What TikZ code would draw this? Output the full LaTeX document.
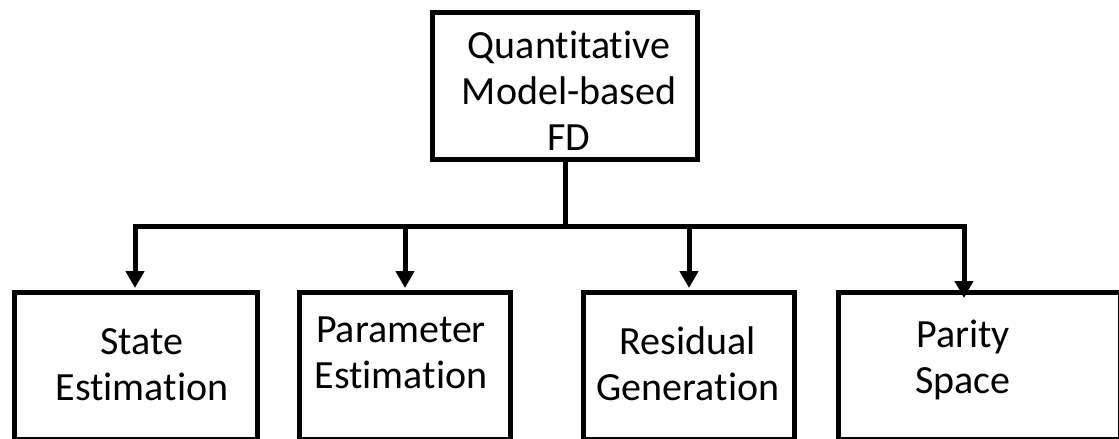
\documentclass[tikz,border=0pt]{standalone}
\usepackage{fontspec}
\setmainfont[Ligatures=NoCommon]{Carlito}
\usetikzlibrary{arrows.meta}
\tikzset{
  box/.style={draw=black, line width=5pt, fill=white, inner sep=0pt},
  lbl/.style={font=\fontsize{40}{46}\selectfont, align=center, inner sep=0pt, anchor=base},
  conn/.style={line width=5pt, line join=miter},
  arr/.style={conn, -{Triangle[width=18pt,length=17pt]}}
}
\begin{document}
\begin{tikzpicture}[x=1pt,y=-1pt]
\clip (0,0) rectangle (1119,439);
\fill[white] (0,0) rectangle (1119,439);
% boxes
\node[box, minimum width=265pt, minimum height=147pt] (top) at (565,86) {};
\node[box, minimum width=243pt, minimum height=147pt] (se) at (136,366) {};
\node[box, minimum width=211pt, minimum height=147pt] (pe) at (405,366) {};
\node[box, minimum width=211pt, minimum height=147pt] (rg) at (689,366) {};
\node[box, minimum width=282pt, minimum height=147pt] (ps) at (979.5,366) {};
% labels (base anchor = last line baseline)
\node[lbl] (topt) at (569,150) {Quantitative\\Model-based\\FD};
\node[lbl] (set) at (142,400) {State\\Estimation};
\node[lbl] (pet) at (401,388) {Parameter\\Estimation};
\node[lbl] (rgt) at (688,400) {Residual\\Generation};
\node[lbl] (pst) at (963,393) {Parity\\Space};
% junctions
\coordinate (j0) at (565,226);
\coordinate (j1) at (135,226);
\coordinate (j2) at (405,226);
\coordinate (j3) at (689,226);
\coordinate (j4) at (964,226);
% connectors
\draw[conn] (top.south) -- (j0);
\draw[arr, shorten >=2pt] (j0) -- (j1) -- (j1 |- se.north);
\draw[arr, shorten >=2pt] (j2) -- (j2 |- pe.north);
\draw[arr, shorten >=2pt] (j3) -- (j3 |- rg.north);
\draw[arr, shorten >=-8pt] (j0) -- (j4) -- (j4 |- ps.north);
\end{tikzpicture}
\end{document}
